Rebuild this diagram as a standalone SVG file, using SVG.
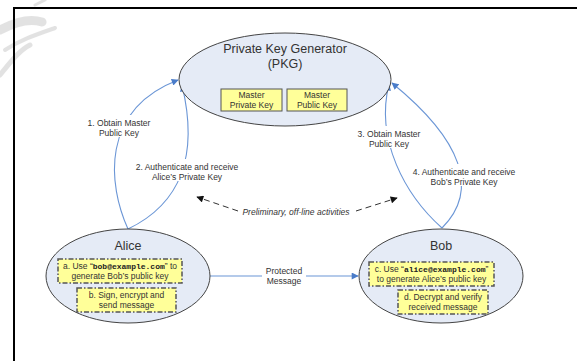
<svg xmlns="http://www.w3.org/2000/svg" width="577" height="361" viewBox="0 0 577 361">
<style>
text{font-family:"Liberation Sans",Arial,sans-serif;fill:#333;}
.title{font-size:12.5px;text-anchor:middle;}
.lbl{font-size:8.5px;text-anchor:middle;}
.mono{font-family:"Liberation Mono","DejaVu Sans Mono",monospace;font-weight:bold;font-size:8px;fill:#222;}
.ell{fill:#e5ebf6;stroke:#444;stroke-width:1;}
.mk{fill:#ffff99;stroke:#555;stroke-width:1;}
.act{fill:#ffff99;stroke:#555;stroke-width:1.5;stroke-dasharray:5 2 1.5 2;}
.link{fill:none;stroke:#6b96d6;stroke-width:1.1;}
.dash{fill:none;stroke:#333;stroke-width:1;stroke-dasharray:6 4;}
.bg{fill:#fff;}
</style>
<defs>
<marker id="ab" viewBox="0 0 10 10" refX="9" refY="5" markerWidth="8" markerHeight="7" orient="auto" markerUnits="userSpaceOnUse">
<path d="M0,0 L10,5 L0,10 z" fill="#4a7cc9"/>
</marker>
<marker id="ak" viewBox="0 0 10 10" refX="9" refY="5" markerWidth="8" markerHeight="7" orient="auto" markerUnits="userSpaceOnUse">
<path d="M0,0 L10,5 L0,10 z" fill="#111"/>
</marker>
</defs>
<rect width="577" height="361" fill="#fff"/>
<g id="watermark" opacity="0.18" fill="none" stroke="#666" stroke-linecap="round">
<path d="M0,30 C15,22 30,18 42,22" stroke-width="9"/>
<path d="M5,50 C20,40 35,35 55,28" stroke-width="4"/>
<path d="M0,75 C12,60 20,50 30,45" stroke-width="5"/>
<path d="M35,5 L45,0" stroke-width="3"/>
</g>
<g id="frame">
<path d="M14,361 L14,8 L577,8" fill="none" stroke="#000" stroke-width="2"/>
</g>
<g id="connectors">
<path class="link" d="M128,229 C108,185 100,110 178,80" marker-end="url(#ab)"/>
<path class="link" d="M128,229 C178,205 200,160 182,85" marker-end="url(#ab)"/>
<path class="link" d="M442,228 C405,195 375,140 389,84" marker-end="url(#ab)"/>
<path class="link" d="M442,228 C480,190 462,140 392,83" marker-end="url(#ab)"/>
<path class="link" d="M210,276 L358,276" marker-end="url(#ab)"/>
<path class="dash" d="M238,211 L197,197" marker-end="url(#ak)"/>
<path class="dash" d="M356,211 L397,198" marker-end="url(#ak)"/>
<rect class="bg" x="86" y="115" width="66" height="22"/>
<text class="lbl" x="119" y="126">1. Obtain Master</text>
<text class="lbl" x="119" y="136">Public Key</text>
<rect class="bg" x="133" y="159" width="108" height="22"/>
<text class="lbl" x="187" y="170">2. Authenticate and receive</text>
<text class="lbl" x="187" y="180">Alice’s Private Key</text>
<rect class="bg" x="356" y="126" width="66" height="22"/>
<text class="lbl" x="389" y="137">3. Obtain Master</text>
<text class="lbl" x="389" y="147">Public Key</text>
<rect class="bg" x="410" y="164" width="108" height="22"/>
<text class="lbl" x="464" y="175">4. Authenticate and receive</text>
<text class="lbl" x="464" y="185">Bob’s Private Key</text>
<rect class="bg" x="262" y="264" width="44" height="22"/>
<text class="lbl" x="284" y="274">Protected</text>
<text class="lbl" x="284" y="283.5">Message</text>
<text class="lbl" x="296" y="215" font-style="italic">Preliminary, off-line activities</text>
</g>
<g id="pkg">
<ellipse class="ell" cx="285" cy="79.5" rx="106" ry="46.5"/>
<text class="title" x="285" y="53">Private Key Generator</text>
<text class="title" x="285" y="68">(PKG)</text>
<rect class="mk" x="221" y="89" width="61" height="22"/>
<text class="lbl" x="251.5" y="98">Master</text>
<text class="lbl" x="251.5" y="107.5">Private Key</text>
<rect class="mk" x="287" y="89" width="60" height="22"/>
<text class="lbl" x="317" y="98">Master</text>
<text class="lbl" x="317" y="107.5">Public Key</text>
</g>
<g id="alice">
<ellipse class="ell" cx="128" cy="276" rx="82" ry="47"/>
<text class="title" x="128" y="250">Alice</text>
<rect class="act" x="58" y="259" width="124" height="24"/>
<text class="lbl" x="120" y="268.5">a. Use “<tspan class="mono">bob@example.com</tspan>” to</text>
<text class="lbl" x="120" y="278.5">generate Bob’s public key</text>
<rect class="act" x="77" y="288" width="99" height="24"/>
<text class="lbl" x="126.5" y="297.5">b. Sign, encrypt and</text>
<text class="lbl" x="126.5" y="307.5">send message</text>
</g>
<g id="bob">
<ellipse class="ell" cx="441" cy="276" rx="82" ry="47"/>
<text class="title" x="441" y="250">Bob</text>
<rect class="act" x="369" y="262" width="125" height="24"/>
<text class="lbl" x="431.5" y="271.5">c. Use “<tspan class="mono">alice@example.com</tspan>”</text>
<text class="lbl" x="431.5" y="281.5">to generate Alice’s public key</text>
<rect class="act" x="398" y="290" width="90" height="24"/>
<text class="lbl" x="443" y="299.5">d. Decrypt and verify</text>
<text class="lbl" x="443" y="309.5">received message</text>
</g>
</svg>
